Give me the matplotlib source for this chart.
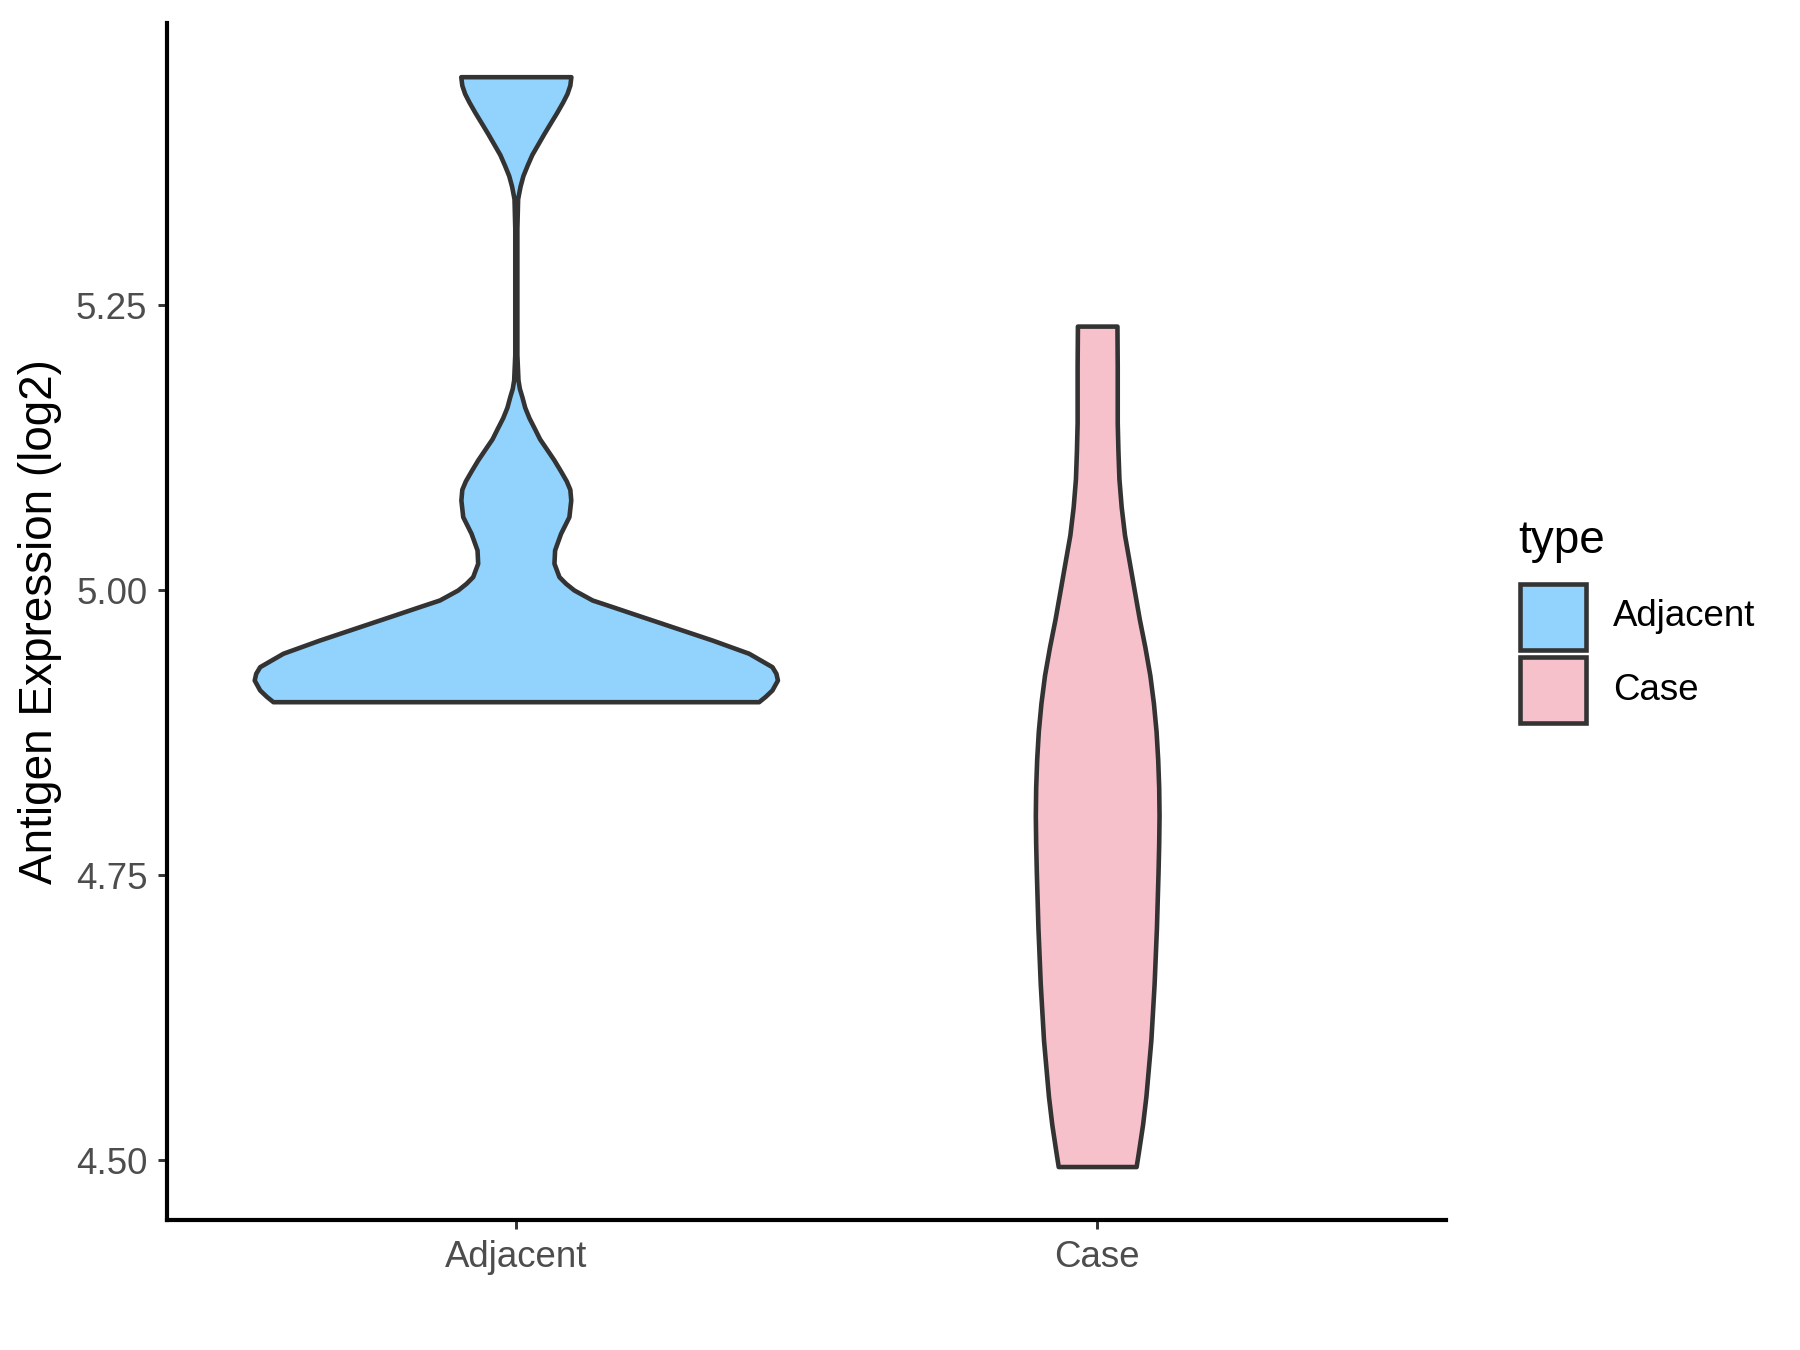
import numpy as np
import matplotlib
matplotlib.use("Agg")
import matplotlib.pyplot as plt
from matplotlib.patches import Rectangle

plt.rcParams['font.family'] = ['Liberation Sans', 'DejaVu Sans']

# groups and colours
groups = ['Adjacent', 'Case']
fills = ['#92D3FE', '#F7C1CC']

# violin outlines: y value and half width (in x units)
adj_y = [5.4504, 5.4430, 5.4356, 5.4282, 5.4190, 5.4098, 5.4005, 5.3913, 5.3821, 5.3728,
         5.3636, 5.3544, 5.3433, 5.3174, 5.2066, 5.1844, 5.1770, 5.1697, 5.1604, 5.1512,
         5.1420, 5.1327, 5.1235, 5.1143, 5.1050, 5.0958, 5.0884,
         5.0790, 5.0644, 5.0498, 5.0352, 5.0235, 5.0118, 5.0060, 5.0001, 4.9913, 4.9855,
         4.9796, 4.9679, 4.9562, 4.9446, 4.9328, 4.9270, 4.9211, 4.9124, 4.9068, 4.9021]
adj_hw = [0.0947, 0.0929, 0.0880, 0.0806, 0.0703, 0.0593, 0.0483, 0.0379, 0.0275, 0.0195,
          0.0122, 0.0073, 0.0031, 0.0018, 0.0018, 0.0037, 0.0061, 0.0104, 0.0153, 0.0226,
          0.0318, 0.0409, 0.0532, 0.0654, 0.0764, 0.0868, 0.0929,
          0.0945, 0.0913, 0.0770, 0.0667, 0.0656, 0.0742, 0.0855, 0.0999, 0.1314, 0.1657,
          0.2001, 0.2688, 0.3375, 0.4005, 0.4406, 0.4474, 0.4500, 0.4406, 0.4291, 0.4177]

case_y = [5.2316, 5.1961, 5.1469, 5.1223, 5.0976, 5.0730, 5.0484, 5.0238, 4.9991, 4.9745,
          4.9499, 4.9253, 4.9006, 4.8760, 4.8514, 4.8268, 4.8022, 4.7775, 4.7529, 4.7036,
          4.6544, 4.6051, 4.5559, 4.5313, 4.5066, 4.4943]
case_hw = [0.0340, 0.0345, 0.0345, 0.0357, 0.0374, 0.0413, 0.0470, 0.0555, 0.0640, 0.0725,
           0.0821, 0.0906, 0.0968, 0.1013, 0.1041, 0.1058, 0.1064, 0.1058, 0.1047, 0.1019,
           0.0979, 0.0923, 0.0838, 0.0781, 0.0708, 0.0670]

yticks = [4.50, 4.75, 5.00, 5.25]

W, H = 1800, 1350
fig = plt.figure(figsize=(12, 9), dpi=150)
ax = fig.add_axes([167 / W, 1 - 1220 / H, (1446 - 167) / W, (1220 - 23) / H])

outlines = [(adj_y, adj_hw), (case_y, case_hw)]
for i, (yy, hw) in enumerate(outlines):
    pos = i + 1
    yy = np.array(yy)
    hw = np.array(hw)
    ax.fill_betweenx(yy, pos - hw, pos + hw, facecolor=fills[i],
                     edgecolor='#333333', linewidth=2.2, joinstyle='round')

ax.set_xlim(0.4, 2.6)
ax.set_ylim(4.4474, 5.4975)
ax.set_xticks([1, 2])
ax.set_xticklabels(groups)
ax.set_yticks(yticks)
ax.set_yticklabels(['%.2f' % t for t in yticks])

for s in ['top', 'right']:
    ax.spines[s].set_visible(False)
for s in ['left', 'bottom']:
    ax.spines[s].set_linewidth(2.0)
    ax.spines[s].set_color('black')
ax.tick_params(axis='both', length=4.5, width=1.4, color='#333333',
               labelsize=17.6, labelcolor='#4D4D4D', pad=5)

fig.text(40 / W, 1 - 622 / H, 'Antigen Expression (log2)', rotation=90,
         ha='center', va='center', fontsize=22, color='black')

# legend
fig.text(1518 / W, 1 - 541 / H, 'type', ha='left', va='center', fontsize=22, color='black')
key_top = [584, 657]
for i, g in enumerate(groups):
    fig.add_artist(Rectangle((1520 / W, 1 - (key_top[i] + 66) / H), 66 / W, 66 / H,
                             transform=fig.transFigure, facecolor=fills[i],
                             edgecolor='#333333', linewidth=2.2))
    fig.text(1613 / W, 1 - (key_top[i] + 33) / H, g, ha='left', va='center',
             fontsize=17.6, color='black')

fig.savefig('out.png', dpi=150)
